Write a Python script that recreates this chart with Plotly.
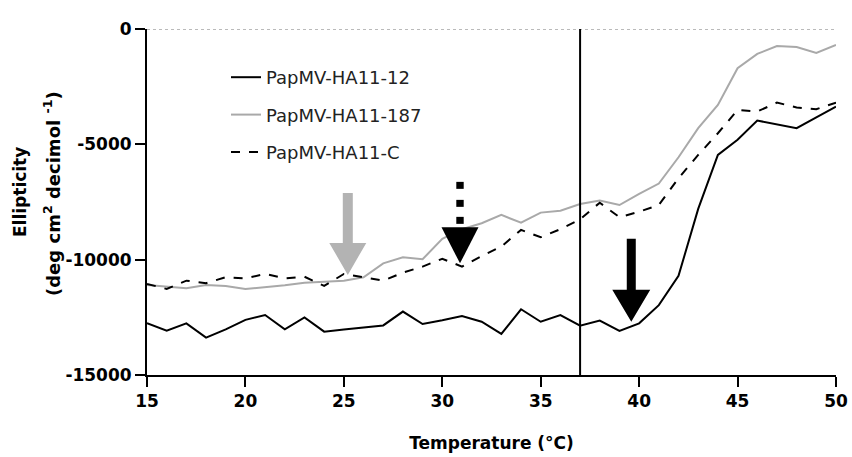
import plotly.graph_objects as go

# ---------------- data ----------------
temperature = list(range(15, 51))
ha11_12 = [-12750, -13080, -12760, -13380, -13020, -12610, -12400, -13020, -12500, -13120,
           -13030, -12930, -12850, -12250, -12790, -12630, -12440, -12690, -13220, -12150,
           -12690, -12400, -12860, -12640, -13090, -12760, -11970, -10700, -7800, -5460,
           -4800, -3970, -4120, -4300, -3830, -3370]
ha11_187 = [-11100, -11170, -11240, -11100, -11140, -11270, -11200, -11110, -11000, -10950,
            -10910, -10760, -10160, -9900, -9980, -9100, -8680, -8420, -8060, -8400,
            -7960, -7880, -7590, -7440, -7630, -7150, -6700, -5560, -4300, -3290,
            -1700, -1080, -740, -780, -1040, -690]
ha11_c = [-11050, -11270, -10910, -11020, -10760, -10810, -10620, -10810, -10740, -11140,
          -10620, -10760, -10910, -10560, -10300, -9960, -10300, -9840, -9430, -8710,
          -9030, -8680, -8250, -7530, -8160, -7920, -7630, -6470, -5460, -4520,
          -3510, -3580, -3190, -3400, -3480, -3190]
series_names = ["PapMV-HA11-12", "PapMV-HA11-187", "PapMV-HA11-C"]
x_ticks = [15, 20, 25, 30, 35, 40, 45, 50]
y_ticks = [0, -5000, -10000, -15000]
ref_temp = 37
# arrows: (x of tip, y of tip)
arrow_tips = [(25.2, -10660), (30.9, -10160), (39.6, -12690)]

# ---------------- layout geometry ----------------
W, H = 852, 457
PLOT_L, PLOT_R, PLOT_T, PLOT_B = 147, 836, 29, 375   # page pixels
ML, MT, MR, MB = PLOT_L, PLOT_T, W - PLOT_R, H - PLOT_B
XR = [15, 50]
YR = [-15000, 0]
PW = W - ML - MR
PH = H - MT - MB
px_x = PW / (XR[1] - XR[0])
px_y = PH / (YR[1] - YR[0])

def dx(p):
    return p / px_x

def dy(p):
    return p / px_y

def paper_x(page_x):
    return (page_x - PLOT_L) / PW

def paper_y(page_y):
    return (PLOT_B - page_y) / PH

FONT = "DejaVu Sans, Verdana, sans-serif"

fig = go.Figure()
fig.add_trace(go.Scatter(x=temperature, y=ha11_12, mode="lines", name=series_names[0],
                         legendgroup="a", line=dict(color="black", width=2)))
fig.add_trace(go.Scatter(x=temperature, y=ha11_187, mode="lines", name=series_names[1],
                         legendgroup="b", line=dict(color="#a9a9a9", width=2)))
fig.add_trace(go.Scatter(x=temperature, y=ha11_c, mode="lines", name=series_names[2],
                         legendgroup="c", line=dict(color="black", width=2, dash="dash")))

shapes = []
shapes.append(dict(type="line", xref="x", yref="y", x0=XR[0], x1=XR[1], y0=0, y1=0,
                   line=dict(color="#777777", width=1, dash="dot"), layer="below"))
shapes.append(dict(type="line", xref="x", yref="y", x0=ref_temp, x1=ref_temp, y0=YR[0], y1=0,
                   line=dict(color="black", width=2)))

def arrow_path(xt, yt, head_h, head_w, shaft_w, shaft_len):
    hw = dx(head_w / 2)
    sw = dx(shaft_w / 2)
    yh = yt + dy(head_h)
    ys = yh + dy(shaft_len)
    return (f"M {xt} {yt} L {xt - hw} {yh} L {xt - sw} {yh} L {xt - sw} {ys} "
            f"L {xt + sw} {ys} L {xt + sw} {yh} L {xt + hw} {yh} Z")

def head_path(xt, yt, head_h, head_w):
    hw = dx(head_w / 2)
    yh = yt + dy(head_h)
    return f"M {xt} {yt} L {xt - hw} {yh} L {xt + hw} {yh} Z"

gx, gy = arrow_tips[0]
shapes.append(dict(type="path", xref="x", yref="y", path=arrow_path(gx, gy, 32, 37, 10, 50),
                   fillcolor="#b3b3b3", line=dict(width=0)))
bx, by = arrow_tips[1]
shapes.append(dict(type="path", xref="x", yref="y", path=head_path(bx, by, 36, 37),
                   fillcolor="black", line=dict(width=0)))
for off in (43, 60, 78):
    yc = by + dy(off)
    shapes.append(dict(type="rect", xref="x", yref="y",
                       x0=bx - dx(3.7), x1=bx + dx(3.7), y0=yc - dy(3.5), y1=yc + dy(3.5),
                       fillcolor="black", line=dict(width=0)))
kx, ky = arrow_tips[2]
shapes.append(dict(type="path", xref="x", yref="y", path=arrow_path(kx, ky, 32, 38, 9, 51),
                   fillcolor="black", line=dict(width=0)))

tick_font = dict(family=FONT, size=17, color="black", weight="bold")
title_font = dict(family=FONT, size=17, color="black", weight="bold")

annotations = [
    dict(text="Ellipticity", textangle=-90,
         xref="paper", yref="paper", x=paper_x(20), y=paper_y(192),
         xanchor="center", yanchor="middle", showarrow=False, font=title_font),
    dict(text="(deg cm<sup>2</sup> decimol <sup>-1</sup>)", textangle=-90,
         xref="paper", yref="paper", x=paper_x(52), y=paper_y(194),
         xanchor="center", yanchor="middle", showarrow=False,
         font=dict(family=FONT, size=18, color="black", weight="bold")),
]

fig.update_layout(
    width=W, height=H,
    margin=dict(l=ML, r=MR, t=MT, b=MB, autoexpand=False),
    paper_bgcolor="white", plot_bgcolor="white",
    showlegend=True,
    legend=dict(x=paper_x(226), y=paper_y(59), xanchor="left", yanchor="top",
                bgcolor="rgba(0,0,0,0)", tracegroupgap=11,
                font=dict(family=FONT, size=18, color="#222222")),
    shapes=shapes,
    annotations=annotations,
    xaxis=dict(range=XR, tickvals=x_ticks, ticktext=[str(v) for v in x_ticks],
               automargin=False, ticklabeloverflow="allow",
               showgrid=False, zeroline=False, showline=True, linecolor="black", linewidth=2,
               ticks="outside", ticklen=10, tickwidth=2, tickcolor="black",
               tickfont=tick_font,
               title=dict(text="Temperature (°C)", standoff=27, font=title_font)),
    yaxis=dict(range=YR, tickvals=y_ticks, ticktext=[str(v) for v in y_ticks],
               automargin=False, ticklabeloverflow="allow",
               showgrid=False, zeroline=False, showline=True, linecolor="black", linewidth=2,
               ticks="outside", ticklen=10, tickwidth=2, tickcolor="black",
               tickfont=tick_font),
)

fig.write_html("out.html", config={"displayModeBar": False},
               post_script="document.body.style.margin='0px';")
